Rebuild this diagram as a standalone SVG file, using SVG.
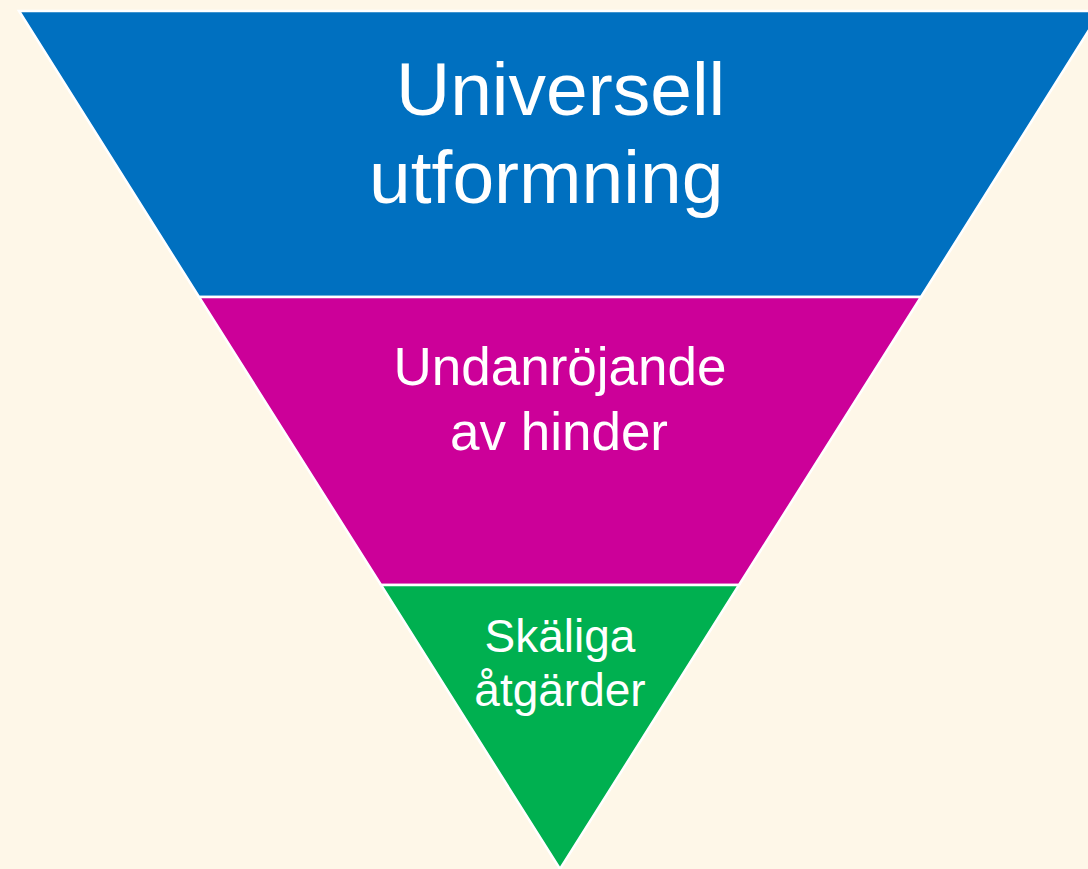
<svg xmlns="http://www.w3.org/2000/svg" width="1088" height="869" viewBox="0 0 1088 869">
<style>
.band{stroke:#FFFFFF;stroke-width:2.5;stroke-linejoin:miter}
.lbl{font-family:"Liberation Sans",Arial,sans-serif;fill:#FFFFFF}
</style>
<rect x="0" y="0" width="1088" height="869" fill="#FEF7E8"/>
<g id="universell">
<polygon class="band" points="19,11 1101,11 921,297 199,297" fill="#0070C0"/>
<text class="lbl" font-size="75" x="396" y="115">Universell</text>
<text class="lbl" font-size="75" x="369" y="203">utformning</text>
</g>
<g id="undanrojande">
<polygon class="band" points="199,297 921,297 739,585 381,585" fill="#CC0099"/>
<text class="lbl" font-size="53" x="560" y="385" text-anchor="middle">Undanröjande</text>
<text class="lbl" font-size="53" x="559" y="450" text-anchor="middle">av hinder</text>
</g>
<g id="skaliga">
<polygon class="band" points="381,585 739,585 560,869" fill="#00B050"/>
<text class="lbl" font-size="46" x="560" y="652" text-anchor="middle">Skäliga</text>
<text class="lbl" font-size="46" x="560" y="706" text-anchor="middle">åtgärder</text>
</g>
<g id="connectors"></g>
</svg>
